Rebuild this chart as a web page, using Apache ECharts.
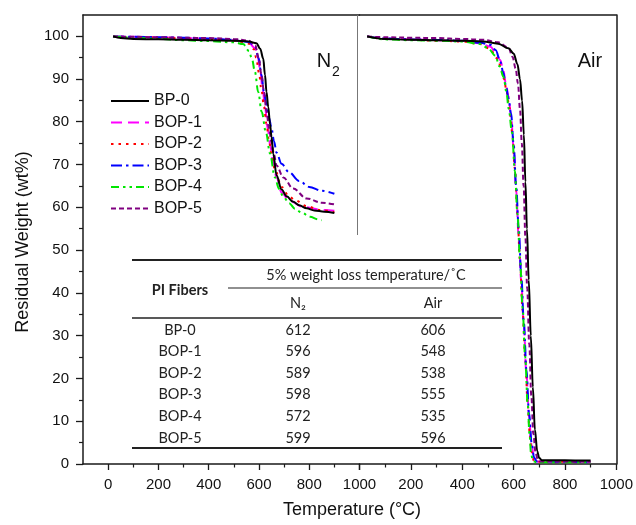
<!DOCTYPE html>
<html>
<head>
<meta charset="utf-8">
<script src="https://cdn.jsdelivr.net/npm/echarts@6/dist/echarts.min.js"></script>
<style>
html,body{margin:0;padding:0;background:#fff;}
#chart{width:636px;height:525px;}
</style>
</head>
<body>
<div id="chart"></div>
<script>
// ---------- data ----------
const seriesNames = ['BP-0', 'BOP-1', 'BOP-2', 'BOP-3', 'BOP-4', 'BOP-5'];
const xTickValues = [0, 200, 400, 600, 800, 1000];
const yTickValues = [0, 10, 20, 30, 40, 50, 60, 70, 80, 90, 100];

// N2 atmosphere: [temperature, weight%]
const n2BP0 = [[20,100],[50,99.6],[100,99.4],[200,99.3],[300,99.2],[400,99.1],[500,99.0],[560,98.8],[590,98.4],[605,97.1],[617,94.8],[624,91],[630,87],[637,83.5],[644,79.5],[650,76.5],[657,72.5],[670,67.5],[690,64.2],[710,62.6],[736,61.3],[760,60.5],[790,59.8],[820,59.3],[860,59.0],[900,58.7]];
const n2BOP1 = [[20,100],[60,99.9],[200,99.8],[300,99.6],[400,99.4],[500,99.1],[560,98.5],[585,97.2],[596,95],[605,92],[615,87.5],[625,83],[635,78.5],[645,74.5],[655,71],[670,67],[690,63.5],[720,61.6],[776,60.1],[856,59.4],[900,59.2]];
const n2BOP2 = [[20,100],[100,99.8],[200,99.7],[300,99.5],[400,99.3],[500,99.0],[560,98.3],[580,97],[589,95],[600,91.5],[610,87.5],[620,83.5],[630,79.5],[640,75.5],[650,72.5],[663,69],[690,64.8],[720,62.6],[743,61.7],[790,60.3],[842,59.4],[900,58.9]];
const n2BOP3 = [[20,100],[100,99.9],[200,99.8],[300,99.7],[400,99.5],[500,99.2],[560,98.7],[585,97.6],[598,95],[610,91],[620,87],[630,84],[640,81],[650,78.5],[660,75.5],[670,72.8],[690,70.2],[720,68.2],[760,66.2],[800,64.8],[850,63.9],[900,63.2]];
const n2BOP4 = [[20,100],[100,99.7],[200,99.4],[300,99.1],[400,98.9],[500,98.6],[537,98.2],[560,96.6],[572,94.8],[584,91.7],[597,87],[611,82.3],[628,77.5],[644,72.6],[663,67.1],[680,64.3],[697,62.5],[720,61],[743,59.7],[770,58.8],[803,57.8],[836,57.2],[850,57.0]];
const n2BOP5 = [[20,100],[100,99.9],[200,99.8],[300,99.7],[400,99.6],[500,99.4],[560,99.0],[585,97.9],[599,95],[610,91],[620,87],[630,82.5],[640,78.5],[650,75.2],[660,72.3],[670,69.8],[697,67],[736,64.4],[790,62.1],[850,61.1],[900,60.7]];

// Air atmosphere: [temperature, weight%]
const airBP0 = [[30,100],[100,99.4],[200,99.2],[300,99.1],[400,99.0],[480,98.8],[540,98.3],[580,97.2],[600,96.0],[615,93.5],[625,90],[633,85],[640,77],[646,66],[652,55],[659,43],[667,30],[675,18],[683,8],[692,3],[700,1.4],[710,0.9],[800,0.85],[900,0.8]];
const airBOP1 = [[30,100],[100,99.5],[200,99.3],[300,99.1],[400,98.9],[470,98.4],[510,97.6],[530,96.3],[548,94.5],[560,92],[570,89],[580,86],[590,81.5],[600,74],[610,64],[620,53],[630,42.5],[640,32],[650,21],[660,11],[670,4.5],[680,1.3],[690,0.6],[900,0.5]];
const airBOP2 = [[30,100],[100,99.4],[200,99.2],[300,99.0],[400,98.8],[470,98.2],[505,97.2],[538,94.8],[552,92.5],[563,90],[573,87],[583,83.5],[595,77.5],[605,69],[615,58.5],[625,47.5],[635,36],[645,25],[655,14],[663,7],[670,2.8],[678,0.9],[690,0.5],[900,0.5]];
const airBOP3 = [[30,100],[100,99.5],[200,99.3],[300,99.2],[400,99.0],[470,98.5],[512,98],[530,96.8],[549,94],[560,91.5],[570,88.5],[580,85.5],[590,82],[600,75],[610,65],[620,55],[630,44],[640,33],[650,22],[660,12],[670,5],[680,1.5],[690,0.6],[900,0.4]];
const airBOP4 = [[30,100],[100,99.3],[200,99.1],[300,99.0],[400,98.8],[470,98.2],[500,97.3],[529,95.5],[545,93],[561,90.5],[572,87],[581,83],[594,77.5],[605,68.5],[615,58.5],[625,48],[635,36.5],[645,25],[655,14],[662,7],[668,2.5],[675,0.7],[690,0.4],[900,0.4]];
const airBOP5 = [[30,100],[100,99.8],[200,99.7],[300,99.6],[400,99.4],[480,99.2],[540,98.6],[580,97.4],[596,95.2],[608,92.5],[617,89],[625,83],[632,75],[639,65],[646,53],[653,41],[661,28],[669,16],[677,7],[686,2.5],[695,0.9],[705,0.6],[900,0.5]];

// Inset table
const tableFibers = ['BP-0', 'BOP-1', 'BOP-2', 'BOP-3', 'BOP-4', 'BOP-5'];
const tableN2 = ['612', '596', '589', '598', '572', '599'];
const tableAir = ['606', '548', '538', '555', '535', '596'];

// ---------- styles ----------
const colors = ['#000000', '#ff00ff', '#ff0000', '#0000ff', '#00e600', '#800080'];
const dashes = ['solid', [11, 6], [2.5, 5], [11, 4, 2.5, 4], [8, 4, 2.5, 4, 2.5, 4], [5, 3]];
const n2Data = [n2BP0, n2BOP1, n2BOP2, n2BOP3, n2BOP4, n2BOP5];
const airData = [airBP0, airBOP1, airBOP2, airBOP3, airBOP4, airBOP5];

const axisColor = '#1a1a1a';
const tickFont = { fontFamily: 'Liberation Sans, Arial, sans-serif', fontSize: 15, color: '#111', formatter: v => String(v) };

function lineSeries(i, data, xi, yi) {
  return {
    name: seriesNames[i], type: 'line', data: data,
    xAxisIndex: xi, yAxisIndex: yi,
    showSymbol: false, symbol: 'none',
    smooth: 0.35, smoothMonotone: 'x',
    lineStyle: { color: colors[i], width: 2, type: dashes[i] },
    itemStyle: { color: colors[i] },
    z: i === 0 ? 3 : 2,
    animation: false
  };
}

const series = [];
n2Data.forEach((d, i) => series.push(lineSeries(i, d, 0, 0)));
airData.forEach((d, i) => series.push(lineSeries(i, d, 2, 1)));

// table / annotation graphics
const tFont = 'Lato, "Open Sans", sans-serif';
const gEls = [];
function txt(t, x, y, opts) {
  opts = opts || {};
  gEls.push({
    type: 'text', x: x, y: y, rotation: opts.rotation || 0, z: 100,
    style: {
      text: t, fill: opts.fill || '#222',
      font: opts.font || ('14.5px ' + tFont),
      align: opts.align || 'center', verticalAlign: 'middle',
      textAlign: opts.align || 'center', textVerticalAlign: 'middle'
    }
  });
}
function hline(x1, x2, y, w, c) {
  gEls.push({ type: 'line', z: 100, shape: { x1: x1, y1: y, x2: x2, y2: y }, style: { stroke: c || '#222', lineWidth: w } });
}
hline(132, 502, 260, 2);
hline(228, 502, 288, 1.2);
hline(132, 502, 318, 1.5);
hline(132, 502, 448, 2);
txt('5% weight loss temperature/\u02DAC', 366, 275);
txt('PI Fibers', 180, 290, { font: 'bold 14.5px ' + tFont });
txt('N\u2082', 298, 303);
txt('Air', 433, 303);
tableFibers.forEach((f, r) => {
  const y = 330 + r * 21.6;
  txt(f, 180, y);
  txt(tableN2[r], 298, y);
  txt(tableAir[r], 433, y);
});
// panel labels
txt('N', 324, 61, { font: '20px Liberation Sans, Arial, sans-serif', fill: '#111' });
txt('2', 336, 72, { font: '14px Liberation Sans, Arial, sans-serif', fill: '#111' });
txt('Air', 590, 61, { font: '20px Liberation Sans, Arial, sans-serif', fill: '#111' });
// axis titles
txt('Temperature (\u00B0C)', 352, 510, { font: '18px Liberation Sans, Arial, sans-serif', fill: '#111' });
txt('Residual Weight (wt%)', 23, 242, { font: '18px Liberation Sans, Arial, sans-serif', fill: '#111', rotation: Math.PI / 2 });
// panel divider
gEls.push({ type: 'line', z: 50, shape: { x1: 357.5, y1: 15, x2: 357.5, y2: 235 }, style: { stroke: '#777', lineWidth: 1 } });

const frameLine = { show: true, onZero: false, lineStyle: { color: axisColor, width: 1.5 } };
const none = { show: false };

const option = {
  backgroundColor: '#ffffff',
  animation: false,
  grid: [
    { left: 83, top: 15, width: 276.5, height: 449 },   // N2 data
    { left: 359.5, top: 15, width: 257.5, height: 449 }, // Air data
    { left: 108.2, top: 15, width: 251.3, height: 449 }, // N2 tick axis
    { left: 83, top: 36, width: 534, height: 428 }       // y tick axis
  ],
  xAxis: [
    { gridIndex: 0, type: 'value', min: -100, max: 1000, position: 'bottom', axisLine: frameLine, axisTick: none, axisLabel: none, splitLine: none },
    { gridIndex: 0, type: 'value', min: -100, max: 1000, position: 'top', axisLine: frameLine, axisTick: none, axisLabel: none, splitLine: none },
    { gridIndex: 1, type: 'value', min: xTickValues[0], max: xTickValues[xTickValues.length - 1], interval: 200, position: 'bottom',
      axisLine: frameLine,
      axisTick: { show: true, inside: false, length: 6, lineStyle: { color: axisColor, width: 1.3 } },
      minorTick: { show: true, splitNumber: 2, length: 3.5, lineStyle: { color: axisColor, width: 1.2 } },
      axisLabel: Object.assign({ margin: 13, showMinLabel: false }, tickFont),
      splitLine: none, minorSplitLine: none },
    { gridIndex: 1, type: 'value', min: 0, max: 1000, position: 'top', axisLine: frameLine, axisTick: none, axisLabel: none, splitLine: none },
    { gridIndex: 2, type: 'value', min: xTickValues[0], max: xTickValues[xTickValues.length - 1], interval: 200, position: 'bottom',
      axisLine: { show: false, onZero: false },
      axisTick: { show: true, inside: false, length: 6, lineStyle: { color: axisColor, width: 1.3 } },
      minorTick: { show: true, splitNumber: 2, length: 3.5, lineStyle: { color: axisColor, width: 1.2 } },
      axisLabel: Object.assign({ margin: 13 }, tickFont),
      splitLine: none, minorSplitLine: none },
    { gridIndex: 3, type: 'value', min: 0, max: 1, show: false }
  ],
  yAxis: [
    { gridIndex: 0, type: 'value', min: 0, max: 105, position: 'left', axisLine: frameLine, axisTick: none, axisLabel: none, splitLine: none },
    { gridIndex: 1, type: 'value', min: 0, max: 105, position: 'left', show: false },
    { gridIndex: 1, type: 'value', min: 0, max: 105, position: 'right', axisLine: frameLine, axisTick: none, axisLabel: none, splitLine: none },
    { gridIndex: 2, type: 'value', min: 0, max: 105, show: false },
    { gridIndex: 3, type: 'value', min: yTickValues[0], max: yTickValues[yTickValues.length - 1], interval: 10, position: 'left',
      axisLine: { show: false, onZero: false },
      axisTick: { show: true, inside: false, length: 7, lineStyle: { color: axisColor, width: 1.3 } },
      minorTick: { show: true, splitNumber: 2, length: 4, lineStyle: { color: axisColor, width: 1.2 } },
      axisLabel: Object.assign({ margin: 14 }, tickFont),
      splitLine: none, minorSplitLine: none }
  ],
  legend: {
    data: seriesNames,
    orient: 'vertical',
    left: 110, top: 92, padding: 0,
    itemWidth: 38, itemHeight: 14, itemGap: 3.5,
    itemStyle: { opacity: 0, borderWidth: 0 },
    textStyle: { fontFamily: 'Liberation Sans, Arial, sans-serif', fontSize: 16, color: '#111', lineHeight: 18 },
    selectedMode: false
  },
  graphic: { elements: gEls },
  series: series
};

const chart = echarts.init(document.getElementById('chart'), null, { renderer: 'canvas' });
chart.setOption(option);
</script>
</body>
</html>
